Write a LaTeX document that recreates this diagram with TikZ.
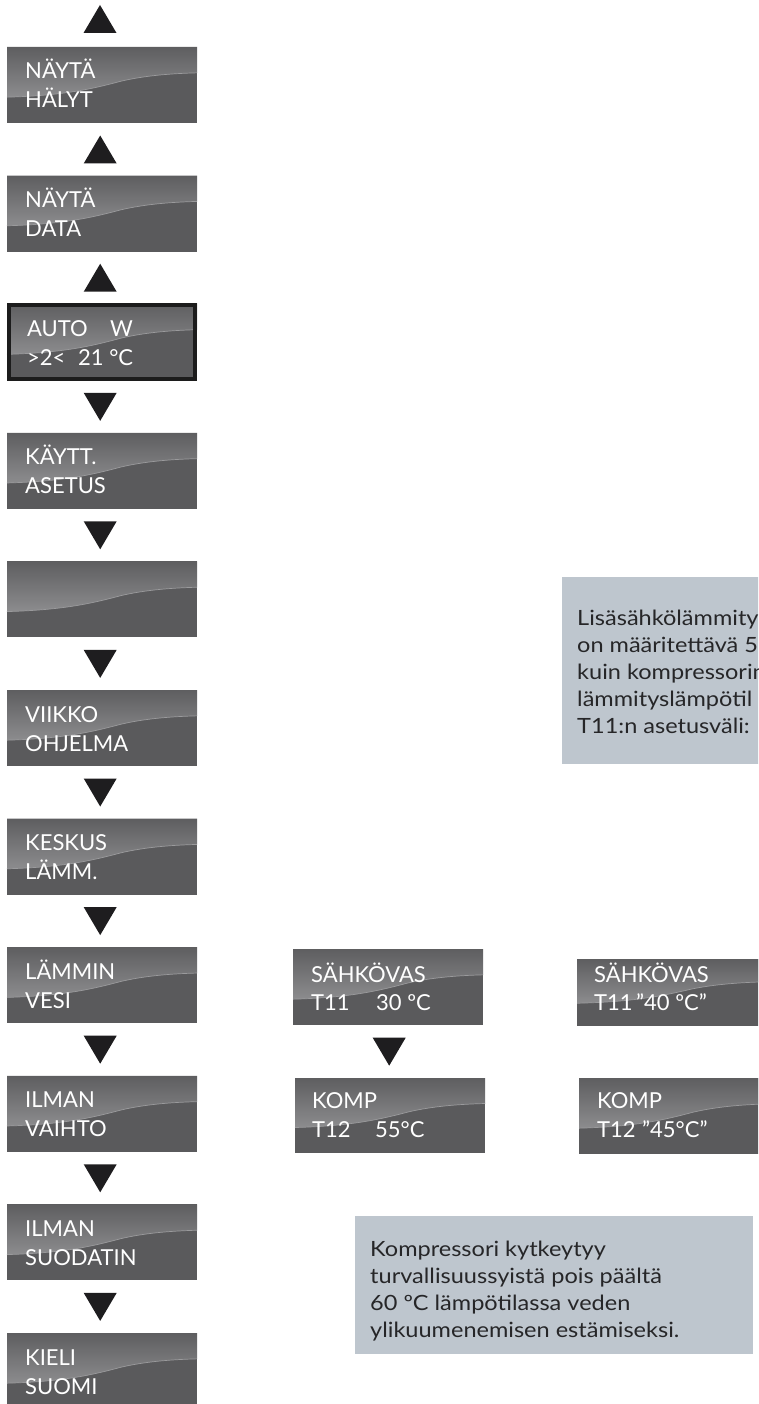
\documentclass[tikz,border=0pt]{standalone}
\usepackage{fontspec}
\usepackage{graphicx}
\setmainfont{Lato}
\usetikzlibrary{calc}
\definecolor{lcdlow}{HTML}{5A5A5C}
\definecolor{lcdtop}{HTML}{5E5E60}
\definecolor{lcdhi}{HTML}{8C8C8E}
\definecolor{wavecol}{HTML}{9A9A9C}
\definecolor{infobg}{HTML}{BEC6CE}
\definecolor{infotxt}{HTML}{262628}
\definecolor{arrcol}{HTML}{1E1D1F}
\definecolor{framecol}{HTML}{1C1C1C}
\tikzset{
  lcdtxt/.style={text=white, font=\fontsize{22}{26}\selectfont, inner sep=0pt, anchor=base west},
  infotext/.style={text=infotxt, font=\fontsize{21}{27}\selectfont, inner sep=0pt, anchor=base west},
  lcdnode/.style={draw=none, fill=none, inner sep=0pt, anchor=north west},
  infobox/.style={fill=infobg, draw=none, inner sep=0pt, anchor=north west},
  arrfill/.style={fill=arrcol, draw=none},
  wavehi/.style={draw=wavecol, line width=0.7pt},
  autoframe/.style={draw=framecol, line width=4pt}
}
\newcommand{\wide}[1]{\scalebox{1.12}[1]{#1}}
% name, x, y, w, h
\newcommand{\lcd}[5]{%
  \begin{scope}[shift={(#2,#3)}]
    \fill[lcdlow] (0,0) rectangle (#4,#5);
    \shade[top color=lcdtop, bottom color=lcdhi] (0,0) -- (#4,0) -- (#4,{0.34*#5})
      .. controls ({0.85*#4},{0.35*#5}) and ({0.72*#4},{0.38*#5}) .. ({0.6*#4},{0.45*#5})
      .. controls ({0.45*#4},{0.55*#5}) and ({0.3*#4},{0.64*#5}) .. (0,{0.66*#5}) -- cycle;
    \draw[wavehi] (#4,{0.34*#5})
      .. controls ({0.85*#4},{0.35*#5}) and ({0.72*#4},{0.38*#5}) .. ({0.6*#4},{0.45*#5})
      .. controls ({0.45*#4},{0.55*#5}) and ({0.3*#4},{0.64*#5}) .. (0,{0.66*#5});
  \end{scope}
  \node[lcdnode, minimum width=#4pt, minimum height=#5pt] (#1) at (#2,#3) {};
}
% box, dx, dy, node name, text
\newcommand{\lcdlabel}[5]{\node[lcdtxt] (#4) at ($(#1.north west)+(#2,#3)$) {#5};}
\newcommand{\uptri}[1]{\fill[arrfill] ($(#1)+(-16.5,14)$) -- ($(#1)+(16.5,14)$) -- ($(#1)+(0,-14)$) -- cycle;}
\newcommand{\downtri}[1]{\fill[arrfill] ($(#1)+(-16.5,-14)$) -- ($(#1)+(16.5,-14)$) -- ($(#1)+(0,14)$) -- cycle;}
\begin{document}
\begin{tikzpicture}[x=1pt,y=-1pt]
\useasboundingbox (0,0) rectangle (758,1404);
\clip (0,0) rectangle (758,1404);

% info boxes
\node[infobox, minimum width=210pt, minimum height=187pt] (info1) at (562,577) {};
\node[infobox, minimum width=398pt, minimum height=138pt] (info2) at (355,1216) {};
\node[infotext] (i1a) at ($(info1.north west)+(15,48)$) {\wide{Lisäsähkölämmity}};
\node[infotext] (i1b) at ($(info1.north west)+(15,75)$) {\wide{on määritettävä 5}};
\node[infotext] (i1c) at ($(info1.north west)+(15,102)$) {\wide{kuin kompressorin}};
\node[infotext] (i1d) at ($(info1.north west)+(15,129)$) {\wide{lämmityslämpötil}};
\node[infotext] (i1e) at ($(info1.north west)+(15,156)$) {\wide{T11:n asetusväli:}};
\node[infotext] (i2a) at ($(info2.north west)+(15,40)$) {\wide{Kompressori kytkeytyy}};
\node[infotext] (i2b) at ($(info2.north west)+(15,67)$) {\wide{turvallisuussyistä pois päältä}};
\node[infotext] (i2c) at ($(info2.north west)+(15,94)$) {\wide{60 ºC lämpötilassa veden}};
\node[infotext] (i2d) at ($(info2.north west)+(15,121)$) {\wide{ylikuumenemisen estämiseksi.}};

% left column
\lcd{b0}{7}{47}{190}{76}
\lcd{b1}{7}{175.6}{190}{76}
\lcd{b2}{7}{303.5}{190}{77}
\lcd{b3}{7}{432.8}{190}{76}
\lcd{b4}{7}{561.4}{190}{76}
\lcd{b5}{7}{690}{190}{76}
\lcd{b6}{7}{818.6}{190}{76}
\lcd{b7}{7}{947.2}{190}{76}
\lcd{b8}{7}{1075.8}{190}{76}
\lcd{b9}{7}{1204.4}{190}{76}
\lcd{b10}{7}{1333}{190}{76}
\draw[autoframe] ($(b2.north west)+(2,2)$) rectangle ($(b2.south east)+(-2,-2)$);

\lcdlabel{b0}{18}{32}{b0a}{NÄYTÄ}
\lcdlabel{b0}{18}{61}{b0b}{HÄLYT}
\lcdlabel{b1}{18}{32}{b1a}{NÄYTÄ}
\lcdlabel{b1}{18}{61}{b1b}{DATA}
\lcdlabel{b2}{20}{33}{b2a}{AUTO}
\lcdlabel{b2}{103}{33}{b2b}{W}
\lcdlabel{b2}{20}{62}{b2c}{>2<}
\lcdlabel{b2}{71}{62}{b2d}{21 °C}
\lcdlabel{b3}{18}{32}{b3a}{KÄYTT.}
\lcdlabel{b3}{18}{61}{b3b}{ASETUS}
\lcdlabel{b5}{18}{32}{b5a}{VIIKKO}
\lcdlabel{b5}{18}{61}{b5b}{OHJELMA}
\lcdlabel{b6}{18}{32}{b6a}{KESKUS}
\lcdlabel{b6}{18}{61}{b6b}{LÄMM.}
\lcdlabel{b7}{18}{32}{b7a}{LÄMMIN}
\lcdlabel{b7}{18}{61}{b7b}{VESI}
\lcdlabel{b8}{18}{32}{b8a}{ILMAN}
\lcdlabel{b8}{18}{61}{b8b}{VAIHTO}
\lcdlabel{b9}{18}{32}{b9a}{ILMAN}
\lcdlabel{b9}{18}{61}{b9b}{SUODATIN}
\lcdlabel{b10}{18}{32}{b10a}{KIELI}
\lcdlabel{b10}{18}{61}{b10b}{SUOMI}

% middle column
\lcd{m1}{293}{949}{190}{76}
\lcd{m2}{295}{1078}{190}{75}
\lcdlabel{m1}{18}{33}{m1a}{SÄHKÖVAS}
\lcdlabel{m1}{18}{61}{m1b}{T11}
\lcdlabel{m1}{83}{61}{m1c}{30 ºC}
\lcdlabel{m2}{17}{30}{m2a}{KOMP}
\lcdlabel{m2}{17}{59}{m2b}{T12}
\lcdlabel{m2}{80}{59}{m2c}{55°C}

% right column
\lcd{r1}{577}{959}{190}{67}
\lcd{r2}{579}{1078}{190}{76}
\lcdlabel{r1}{17}{23}{r1a}{SÄHKÖVAS}
\lcdlabel{r1}{17}{51}{r1b}{T11}
\node[lcdtxt, anchor=base west] (r1c) at ($(r1b.base east)+(3,0)$) {"40 ºC"};
\lcdlabel{r2}{18}{30}{r2a}{KOMP}
\lcdlabel{r2}{18}{59}{r2b}{T12}
\node[lcdtxt, anchor=base west] (r2c) at ($(r2b.base east)+(6,0)$) {"45°C"};

% arrows
\coordinate (a0) at (100,19);
\uptri{a0}
\coordinate (a1) at ($(b0.south)!0.5!(b1.north)+(-2,0)$);
\uptri{a1}
\coordinate (a2) at ($(b1.south)!0.5!(b2.north)+(-2,0)$);
\uptri{a2}
\foreach \p/\q in {2/3,3/4,4/5,5/6,6/7,7/8,8/9,9/10}{
  \coordinate (d\p) at ($(b\p.south)!0.5!(b\q.north)+(-2,0)$);
  \downtri{d\p}
}
\coordinate (dm) at ($(m1.south)!0.5!(m2.north)$);
\downtri{dm}
\end{tikzpicture}
\end{document}
